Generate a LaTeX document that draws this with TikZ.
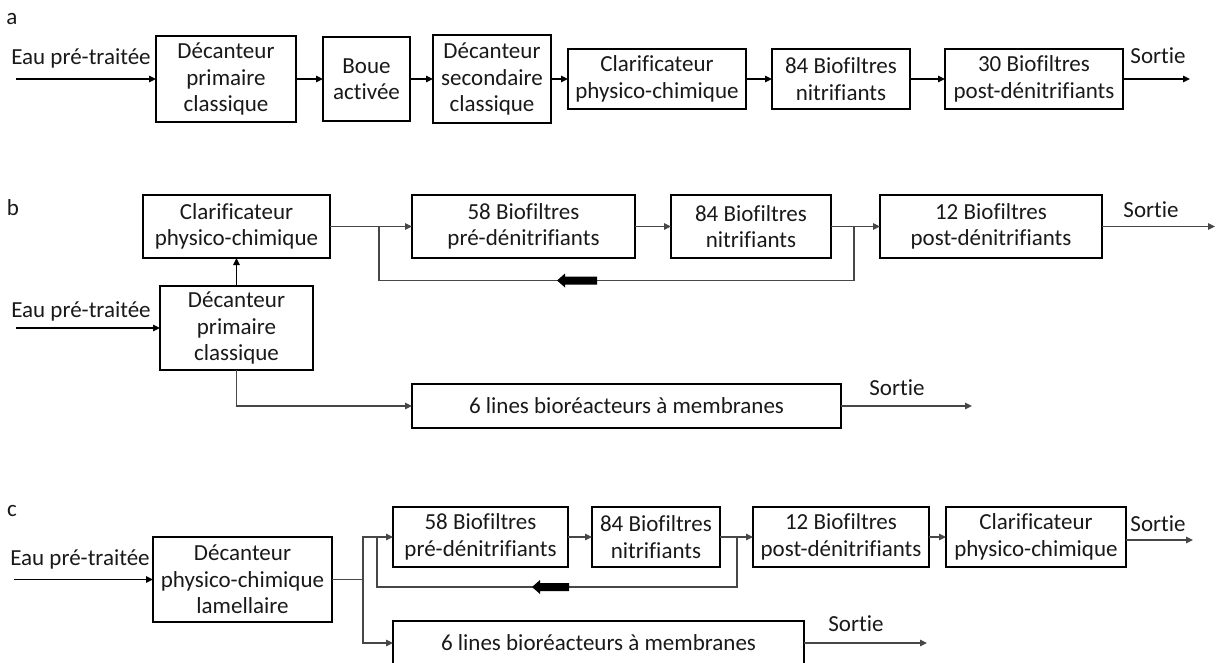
\documentclass[tikz,border=0pt]{standalone}
\usepackage{fontspec}
\setmainfont{Carlito}[Ligatures={NoCommon}]
\usetikzlibrary{arrows.meta}
\newcommand\fsz{\fontsize{23}{26.5}\selectfont}
\begin{document}
\begin{tikzpicture}[x=1pt,y=-1pt,
  box/.style={draw=black, line width=1.5pt, inner sep=0pt, outer sep=0pt, align=center, font=\fsz, text=black!90},
  lbl/.style={inner sep=0pt, font=\fsz, text=black!90},
  arrA/.style={line width=1.5pt, draw=black, -{Triangle[length=7pt,width=6.5pt]}},
  conn/.style={line width=1.2pt, draw=black!72, -{Triangle[length=7pt,width=6.5pt]}},
  plain/.style={line width=1.2pt, draw=black!72},
  fat/.style={fill=black},
]
\useasboundingbox (0,0) rectangle (1217,663);
\clip (0,0) rectangle (1217,663);

% ---------------- panel a ----------------
\node[lbl] (la) at (12,19) {a};
\node[lbl] (ea) at (81,58) {Eau pré-traitée};
\coordinate (ia) at (16,79);
\node[box, minimum width=140, minimum height=86] (a1) at (226,79) {Décanteur\\primaire\\classique};
\node[box, minimum width=87, minimum height=84] (a2) at (366.5,79) {Boue\\activée};
\node[box, minimum width=118, minimum height=88] (a3) at (492,79) {Décanteur\\secondaire\\classique};
\node[box, minimum width=178, minimum height=60] (a4) at (657,79) {Clarificateur\\physico-chimique};
\node[box, minimum width=138, minimum height=60] (a5) at (841,79) {84 Biofiltres\\nitrifiants};
\node[box, minimum width=178, minimum height=60] (a6) at (1034,79) {30 Biofiltres\\post-dénitrifiants};
\node[lbl] (sa) at (1158,56) {Sortie};
\coordinate (oa) at (1190,79);
\draw[arrA] (ia) -- (a1.west);
\draw[arrA] (a1) -- (a2);
\draw[arrA] (a2) -- (a3);
\draw[arrA] (a3) -- (a4);
\draw[arrA] (a4) -- (a5);
\draw[arrA] (a5) -- (a6);
\draw[arrA] (a6) -- (oa);

% ---------------- panel b ----------------
\node[lbl] (lb) at (13,208) {b};
\node[box, minimum width=187, minimum height=63] (bclar) at (236.5,226.5) {Clarificateur\\physico-chimique};
\node[box, minimum width=153, minimum height=84] (bdec) at (236.5,328) {Décanteur\\primaire\\classique};
\node[lbl] (eb) at (81,311) {Eau pré-traitée};
\coordinate (ib) at (16,328);
\node[box, minimum width=223, minimum height=63] (b58) at (523.5,226.5) {58 Biofiltres\\pré-dénitrifiants};
\node[box, minimum width=160, minimum height=63] (b84) at (751,226.5) {84 Biofiltres\\nitrifiants};
\node[box, minimum width=222, minimum height=63] (b12) at (991,226.5) {12 Biofiltres\\post-dénitrifiants};
\node[lbl] (sb) at (1151,210) {Sortie};
\coordinate (ob) at (1215,226.5);
\node[box, minimum width=429, minimum height=44] (bmbr) at (626.5,406) {6 lines bioréacteurs à membranes};
\node[lbl] (sbm) at (897,388) {Sortie};
\coordinate (obm) at (972,406);
\coordinate (jb) at (854,226.5);
\coordinate (fb) at (379,280.5);

\draw[arrA] (ib) -- (bdec.west);
\draw[arrA] (bdec.north) -- (bclar.south);
\draw[conn] (bclar) -- (b58);
\draw[conn] (b58) -- (b84);
\draw[conn] (b84) -- (b12);
\draw[conn] (b12) -- (ob);
\draw[plain] (jb) |- (fb) -- (fb |- bclar.east);
\fill[fat] (557,280.5) -- (565,273.5) -- (565,276.5) -- (597,276.5) -- (597,284.5) -- (565,284.5) -- (565,287.5) -- cycle;
\draw[conn] (bdec.south) |- (bmbr.west);
\draw[conn] (bmbr) -- (obm);

% ---------------- panel c ----------------
\node[lbl] (lc) at (12,511) {c};
\node[lbl] (ec) at (80,559) {Eau pré-traitée};
\coordinate (ic) at (14,579.5);
\node[box, minimum width=179, minimum height=85] (cdec) at (242.5,579.5) {Décanteur\\physico-chimique\\lamellaire};
\node[box, minimum width=175, minimum height=60] (c58) at (480.5,537) {58 Biofiltres\\pré-dénitrifiants};
\node[box, minimum width=128, minimum height=60] (c84) at (656,537) {84 Biofiltres\\nitrifiants};
\node[box, minimum width=176, minimum height=60] (c12) at (841,537) {12 Biofiltres\\post-dénitrifiants};
\node[box, minimum width=180, minimum height=60] (cclar) at (1036,537) {Clarificateur\\physico-chimique};
\node[lbl] (sc) at (1158,524) {Sortie};
\coordinate (oc) at (1193,540);
\node[box, minimum width=411, minimum height=44] (cmbr) at (598.5,643) {6 lines bioréacteurs à membranes};
\node[lbl] (scm) at (856,624) {Sortie};
\coordinate (ocm) at (927,643);
\coordinate (spc) at (363,579.5);
\coordinate (jc) at (737,537);
\coordinate (fc) at (377,587);

\draw[arrA] (ic) -- (cdec.west);
\draw[plain] (cdec.east) -- (spc);
\draw[conn] (spc) |- (c58.west);
\draw[conn] (spc) |- (cmbr.west);
\draw[conn] (c58) -- (c84);
\draw[conn] (c84) -- (c12);
\draw[conn] (c12) -- (cclar);
\draw[conn] (cclar.east |- oc) -- (oc);
\draw[plain] (jc) |- (fc) -- (fc |- c58.west);
\fill[fat] (532,587) -- (540,580) -- (540,583) -- (569,583) -- (569,591) -- (540,591) -- (540,594) -- cycle;
\draw[conn] (cmbr) -- (ocm);
\end{tikzpicture}
\end{document}
